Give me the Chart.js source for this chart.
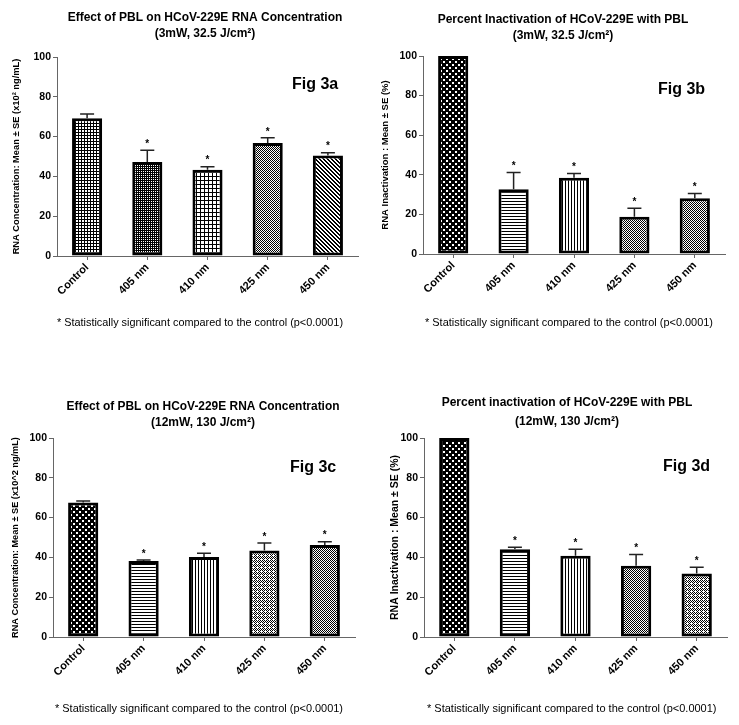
<!DOCTYPE html>
<html>
<head>
<meta charset="utf-8">
<script src="https://cdn.jsdelivr.net/npm/chart.js@4.4.1/dist/chart.umd.min.js"></script>
<style>
  body { margin: 0; background: #fff; }
  #page { position: relative; width: 739px; height: 725px; overflow: hidden; }
  canvas { position: absolute; }
</style>
</head>
<body>
<div id="page">
  <canvas id="figA" width="370" height="345" style="left:0;top:0"></canvas>
  <canvas id="figB" width="369" height="345" style="left:370px;top:0"></canvas>
  <canvas id="figC" width="370" height="365" style="left:0;top:360px"></canvas>
  <canvas id="figD" width="369" height="365" style="left:370px;top:360px"></canvas>
</div>
<script>
// ------------ data ------------
const categories = ['Control', '405 nm', '410 nm', '425 nm', '450 nm'];
const yTicks = [0, 20, 40, 60, 80, 100];
const significant = [false, true, true, true, true];

// Fig 3a: RNA concentration, 3mW
const concLow = [69.2, 47.2, 43.3, 56.8, 50.5];
const seConcLow = [2.2, 6.0, 1.6, 2.6, 1.4];
// Fig 3b: percent inactivation, 3mW
const inactLow = [100, 32.7, 38.5, 18.8, 28.1];
const seInactLow = [0, 8.5, 2.2, 4.3, 2.5];
// Fig 3c: RNA concentration, 12mW
const concHigh = [67.6, 38.2, 40.2, 43.5, 46.2];
const seConcHigh = [0.7, 0.5, 1.9, 3.7, 1.7];
// Fig 3d: percent inactivation, 12mW
const inactHigh = [100, 44.1, 40.8, 35.8, 31.9];
const seInactHigh = [0, 1.0, 3.3, 5.7, 3.1];

const footnote = '* Statistically significant compared to the control (p<0.0001)';
const FONT = 'Arial, "Liberation Sans", sans-serif';

// ------------ fill patterns ------------
function makePattern(w, h, draw) {
    const c = document.createElement('canvas');
    c.width = w;
    c.height = h;
    const x = c.getContext('2d');
    x.fillStyle = '#fff';
    x.fillRect(0, 0, w, h);
    x.fillStyle = '#000';
    draw(x);
    return x.createPattern(c, 'repeat');
}

const patterns = {
    grid: makePattern(3, 3, x => { x.fillRect(0, 0, 3, 1); x.fillRect(0, 0, 1, 3); }),
    dark: makePattern(2, 2, x => { x.fillRect(0, 0, 2, 2); x.fillStyle = '#fff'; x.fillRect(1, 1, 1, 1); }),
    plaid: makePattern(4, 4, x => { x.fillRect(0, 0, 4, 1); x.fillRect(0, 0, 1, 4); }),
    diag: makePattern(4, 4, x => { for (let i = 0; i < 4; i++) { x.fillRect(i, i, 1, 1); x.fillRect((i + 1) % 4, i, 1, 1); } }),
    dots: makePattern(6, 6, x => { x.fillRect(0, 0, 6, 6); x.fillStyle = '#fff'; x.fillRect(1, 1, 2, 2); x.fillRect(4, 4, 2, 2); }),
    hlines: makePattern(1, 3, x => { x.fillRect(0, 0, 1, 1); }),
    vlines: makePattern(3, 1, x => { x.fillRect(0, 0, 1, 1); }),
    stipple: makePattern(2, 2, x => { x.fillRect(0, 0, 1, 1); x.fillRect(1, 1, 1, 1); }),
    hatch: makePattern(4, 4, x => { x.fillRect(0, 0, 1, 1); x.fillRect(1, 1, 1, 1); x.fillRect(2, 2, 1, 1); x.fillRect(3, 3, 1, 1); x.fillRect(2, 0, 1, 1); x.fillRect(0, 2, 1, 1); x.fillRect(3, 1, 1, 1); })
};

// ------------ plugins ------------
const errorBars = {
    id: 'errorBars',
    afterDatasetsDraw(chart, args, opts) {
        const ctx = chart.ctx;
        const yScale = chart.scales.y;
        const bars = chart.getDatasetMeta(0).data;
        const values = chart.data.datasets[0].data;
        ctx.save();
        ctx.strokeStyle = '#222';
        ctx.lineWidth = 1.5;
        bars.forEach((bar, i) => {
            const top = yScale.getPixelForValue(values[i] + opts.se[i]);
            const base = yScale.getPixelForValue(values[i]);
            if (opts.se[i] > 0) {
                ctx.beginPath();
                ctx.moveTo(bar.x, base);
                ctx.lineTo(bar.x, top);
                ctx.moveTo(bar.x - 7, top);
                ctx.lineTo(bar.x + 7, top);
                ctx.stroke();
            }
            if (significant[i]) {
                ctx.fillStyle = '#000';
                ctx.font = 'bold 10px ' + FONT;
                ctx.textAlign = 'center';
                ctx.textBaseline = 'middle';
                ctx.fillText('*', bar.x, top - 6);
            }
        });
        ctx.restore();
    }
};

const decor = {
    id: 'decor',
    afterDraw(chart, args, opts) {
        const ctx = chart.ctx;
        ctx.save();
        ctx.fillStyle = '#000';
        ctx.textAlign = 'center';
        ctx.textBaseline = 'middle';
        ctx.font = 'bold 12px ' + FONT;
        ctx.fillText(opts.title[0], opts.titleX, opts.titleY[0], opts.titleW);
        ctx.fillText(opts.title[1], opts.titleX, opts.titleY[1]);

        ctx.font = 'bold 16px ' + FONT;
        ctx.textAlign = 'left';
        ctx.fillText(opts.fig, opts.figX, opts.figY);

        ctx.font = '11px ' + FONT;
        ctx.fillText(footnote, opts.noteX, opts.noteY, opts.noteW);
        ctx.restore();
    }
};

// ------------ chart builder ------------
function drawPanel(id, values, se, fills, yTitle, yTitleSize, yTitlePad, box, deco) {
    const ctx = document.getElementById(id).getContext('2d');
    return new Chart(ctx, {
        type: 'bar',
        data: {
            labels: categories,
            datasets: [{
                data: values,
                backgroundColor: fills.map(f => patterns[f]),
                borderColor: '#000',
                borderWidth: 3,
                borderSkipped: false,
                barPercentage: 0.5,
                categoryPercentage: 1
            }]
        },
        options: {
            responsive: false,
            animation: false,
            layout: { padding: { left: 0, right: box.right, top: box.top, bottom: 0 } },
            plugins: {
                legend: { display: false },
                tooltip: { enabled: false },
                errorBars: { se: se },
                decor: deco
            },
            scales: {
                x: {
                    afterFit: s => { s.height = box.xh; },
                    border: { color: '#666', width: 1 },
                    grid: { display: true, drawOnChartArea: false, offset: false, tickLength: 4, color: '#666' },
                    ticks: {
                        color: '#000',
                        font: { family: FONT, size: 11, weight: 'bold' },
                        minRotation: 45,
                        maxRotation: 45,
                        padding: 1
                    }
                },
                y: {
                    min: 0,
                    max: 100,
                    afterFit: s => { s.width = box.left; },
                    afterBuildTicks: s => { s.ticks = yTicks.map(v => ({ value: v })); },
                    border: { color: '#666', width: 1 },
                    grid: { display: true, drawOnChartArea: false, tickLength: 4, color: '#666' },
                    ticks: {
                        color: '#000',
                        font: { family: FONT, size: 10.5, weight: 'bold' },
                        padding: 2
                    },
                    title: {
                        display: true,
                        text: yTitle,
                        color: '#000',
                        font: { family: FONT, size: yTitleSize, weight: 'bold' },
                        padding: { top: yTitlePad, bottom: 0 }
                    }
                }
            }
        },
        plugins: [errorBars, decor]
    });
}

drawPanel('figA', concLow, seConcLow, ['grid', 'dark', 'plaid', 'stipple', 'diag'],
    'RNA Concentration: Mean \u00b1 SE (x10\u00b2 ng/mL)', 9.3, 11,
    { left: 57, right: 12, top: 57, xh: 89 },
    { title: ['Effect of PBL on HCoV-229E RNA Concentration', '(3mW, 32.5 J/cm\u00b2)'],
      titleX: 205, titleY: [18, 34], titleW: 280,
      fig: 'Fig 3a', figX: 292, figY: 85,
      noteX: 57, noteY: 323, noteW: 286 });

drawPanel('figB', inactLow, seInactLow, ['dots', 'hlines', 'vlines', 'stipple', 'stipple'],
    'RNA Inactivation : Mean \u00b1 SE (%)', 9.5, 10,
    { left: 53, right: 14, top: 56, xh: 91 },
    { title: ['Percent Inactivation of HCoV-229E with PBL', '(3mW, 32.5 J/cm\u00b2)'],
      titleX: 193, titleY: [20, 36], titleW: 253,
      fig: 'Fig 3b', figX: 288, figY: 90,
      noteX: 55, noteY: 323, noteW: 288 });

drawPanel('figC', concHigh, seConcHigh, ['dots', 'hlines', 'vlines', 'hatch', 'stipple'],
    'RNA Concentration: Mean \u00b1 SE (x10^2 ng/mL)', 9.2, 9.5,
    { left: 53, right: 15, top: 78, xh: 88 },
    { title: ['Effect of PBL on HCoV-229E RNA Concentration', '(12mW, 130 J/cm\u00b2)'],
      titleX: 203, titleY: [47, 63], titleW: 273,
      fig: 'Fig 3c', figX: 290, figY: 108,
      noteX: 55, noteY: 349, noteW: 288 });

drawPanel('figD', inactHigh, seInactHigh, ['dots', 'hlines', 'vlines', 'stipple', 'hatch'],
    'RNA Inactivation : Mean \u00b1 SE (%)', 10.5, 19,
    { left: 54, right: 12, top: 78, xh: 88 },
    { title: ['Percent inactivation of HCoV-229E with PBL', '(12mW, 130 J/cm\u00b2)'],
      titleX: 197, titleY: [43, 62], titleW: 251,
      fig: 'Fig 3d', figX: 293, figY: 107,
      noteX: 57, noteY: 349, noteW: 290 });
</script>
</body>
</html>
